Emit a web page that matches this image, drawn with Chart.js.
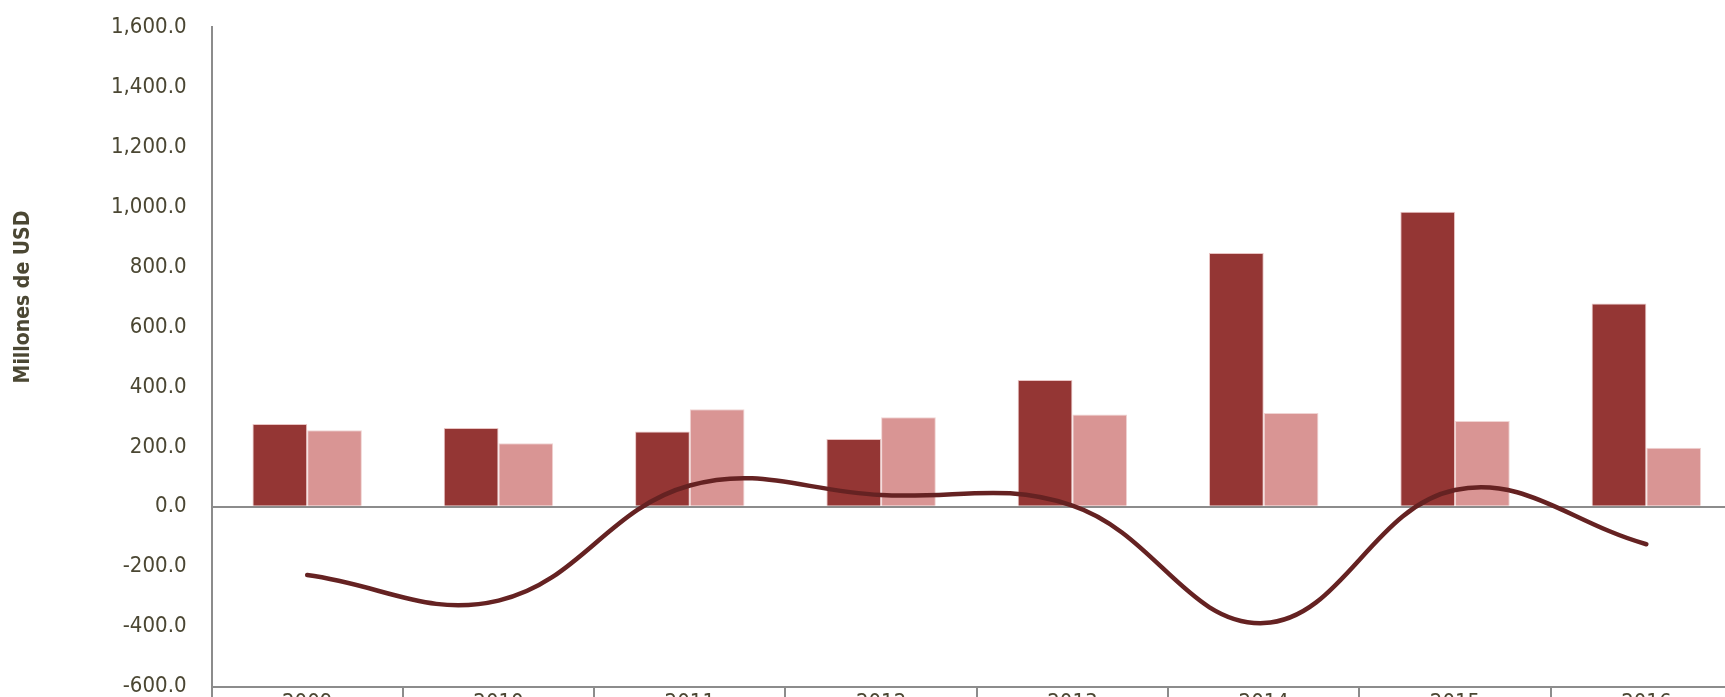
<!DOCTYPE html>
<html>
<head>
<meta charset="utf-8">
<script src="https://cdn.jsdelivr.net/npm/chart.js@4"></script>
<style>
    html, body { margin: 0; padding: 0; background: #ffffff; overflow: hidden; }
    #wrap { position: absolute; left: 0; top: -11px; width: 1760px; height: 750px; }
</style>
</head>
<body>
<div id="wrap"><canvas id="balanzaChart"></canvas></div>
<script>
// Datos (millones de USD)
var years = ['2009', '2010', '2011', '2012', '2013', '2014', '2015', '2016'];
var serieOscura = [276, 263, 251, 226, 423, 847, 984, 678];
var serieClara = [255, 212, 325, 299, 308, 313, 286, 197];
var serieLinea = [-228, -313, 71, 39, 4, -388, 56, -125];
var yTicks = { min: -600, max: 1600, step: 200 };
var yTitle = 'Millones de USD';

var fontFamily = "'Liberation Sans Narrow', 'Arial Narrow', 'DejaVu Sans Condensed', sans-serif";
var textColor = '#4b4733';
var axisColor = '#8c8c8c';

// titulo del eje Y, un poco por encima del centro como en el original
var yTitlePlugin = {
    id: 'yTitle',
    afterDraw: function (chart) {
        var ctx = chart.ctx;
        ctx.save();
        ctx.translate(24, 308);
        ctx.rotate(-Math.PI / 2);
        ctx.font = 'bold 21px ' + fontFamily;
        ctx.fillStyle = textColor;
        ctx.textAlign = 'center';
        ctx.textBaseline = 'middle';
        ctx.fillText(yTitle, 0, 0);
        ctx.restore();
    }
};

var ctx = document.getElementById('balanzaChart');
new Chart(ctx, {
    type: 'bar',
    data: {
        labels: years,
        datasets: [
            {
                type: 'line',
                label: 'Saldo',
                data: serieLinea,
                borderColor: '#652222',
                borderWidth: 4.5,
                borderCapStyle: 'round',
                tension: 0.4,
                pointRadius: 0,
                fill: false,
                order: 0
            },
            {
                label: 'Exportaciones',
                data: serieOscura,
                backgroundColor: '#943634',
                borderColor: '#e9c4c3',
                borderWidth: 1,
                order: 1
            },
            {
                label: 'Importaciones',
                data: serieClara,
                backgroundColor: '#d99594',
                borderColor: '#f0d4d3',
                borderWidth: 1,
                order: 2
            }
        ]
    },
    options: {
        responsive: true,
        maintainAspectRatio: false,
        animation: false,
        datasets: {
            bar: { categoryPercentage: 0.572, barPercentage: 1.0 }
        },
        layout: {
            padding: { left: 86, right: 18, top: -2, bottom: 34 }
        },
        plugins: {
            legend: { display: false },
            tooltip: { enabled: false }
        },
        scales: {
            x: {
                offset: true,
                grid: {
                    offset: true,
                    drawOnChartArea: false,
                    drawTicks: true,
                    tickLength: 14,
                    color: axisColor,
                    lineWidth: 2
                },
                border: { color: axisColor, width: 2 },
                ticks: {
                    color: textColor,
                    padding: -11,
                    font: { family: fontFamily, size: 22 }
                }
            },
            y: {
                min: yTicks.min,
                max: yTicks.max,
                grid: {
                    drawTicks: false,
                    lineWidth: 2,
                    color: function (c) {
                        return c.tick && c.tick.value === 0 ? axisColor : 'rgba(0,0,0,0)';
                    }
                },
                border: { color: axisColor, width: 2 },
                ticks: {
                    stepSize: yTicks.step,
                    color: textColor,
                    padding: 25,
                    font: { family: fontFamily, size: 22 },
                    callback: function (v) {
                        return v.toLocaleString('en-US', { minimumFractionDigits: 1, maximumFractionDigits: 1 });
                    }
                }
            }
        }
    },
    plugins: [yTitlePlugin]
});
</script>
</body>
</html>
